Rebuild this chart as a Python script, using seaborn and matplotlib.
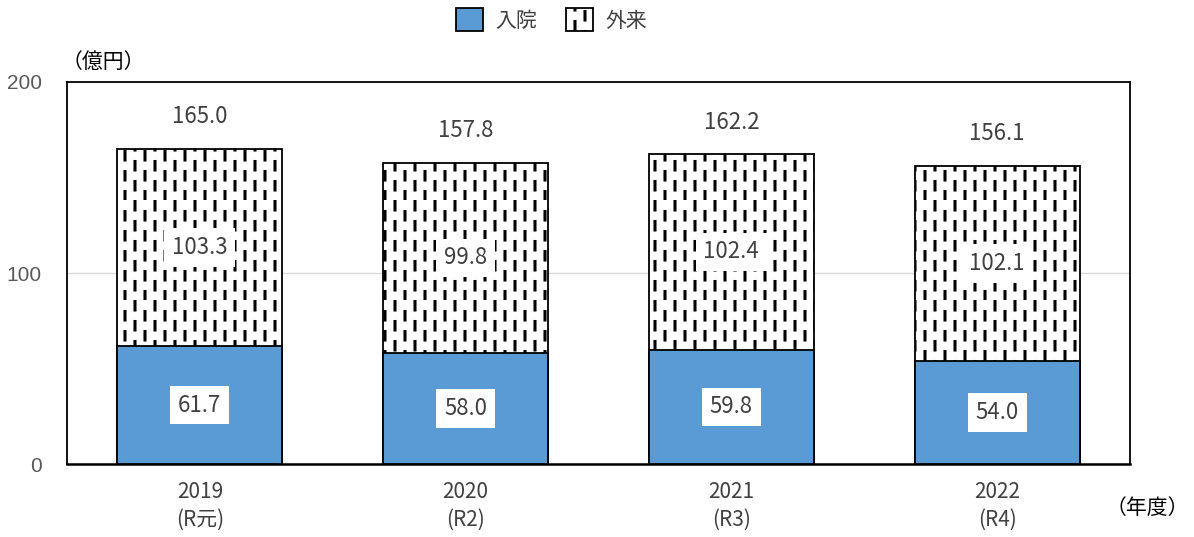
import warnings
import numpy as np
import pandas as pd
import matplotlib
matplotlib.use("Agg")
import matplotlib.pyplot as plt
import matplotlib.hatch as mhatch
from matplotlib.path import Path
import seaborn as sns

warnings.filterwarnings("ignore")

# Data (億円)
years = ["2019", "2020", "2021", "2022"]
eras = ["(R元)", "(R2)", "(R3)", "(R4)"]
inpatient = [61.7, 58.0, 59.8, 54.0]
outpatient = [103.3, 99.8, 102.4, 102.1]
yticks = [0, 100, 200]


# Staggered dashed-column hatch, selected with the 'd' hatch character
class DashedColumns(mhatch.HatchPatternBase):
    def __init__(self, hatch, density):
        self.cols = 10 if "d" in hatch else 0
        self.dashes = 5
        self.num_vertices = self.cols * self.dashes * 2

    def set_vertices_and_codes(self, vertices, codes):
        step = 1.0 / self.cols
        period = 1.0 / self.dashes
        length = 0.085
        k = 0
        for c in range(self.cols):
            x = (c + 0.5) * step
            shift = 0.0 if c % 2 == 0 else period / 2
            for d in range(self.dashes):
                y0 = (d * period + shift) % 1.0
                vertices[k] = (x, y0)
                vertices[k + 1] = (x, min(y0 + length, 1.0))
                codes[k] = Path.MOVETO
                codes[k + 1] = Path.LINETO
                k += 2


mhatch._hatch_types.append(DashedColumns)

sns.set_theme(style="white")
plt.rcParams["font.family"] = ["Noto Sans CJK JP", "DejaVu Sans"]
plt.rcParams["hatch.linewidth"] = 2.2
plt.rcParams["hatch.color"] = "black"

BLUE = "#5B9BD5"
TXT = "#404040"

df = pd.DataFrame({
    "year": years,
    "入院": inpatient,
    "外来": outpatient,
})
df["total"] = df["入院"] + df["外来"]

fig = plt.figure(figsize=(11.94, 5.37), dpi=100)
ax = fig.add_axes([0.0561, 0.1359, 0.8903, 0.7114])

# Full stack (hatched outpatient visible above the inpatient part)
sns.barplot(data=df, x="year", y="total", color="white", width=0.62,
            edgecolor="black", linewidth=1.3, hatch="d", saturation=1,
            ax=ax, zorder=2)
# Inpatient part from zero
sns.barplot(data=df, x="year", y="入院", color=BLUE, width=0.62,
            edgecolor="black", linewidth=1.3, saturation=1, ax=ax, zorder=3)

total_bars = ax.containers[0]
in_bars = ax.containers[1]

ax.set_ylim(0, 200)
ax.set_yticks(yticks)
ax.set_yticklabels([str(v) for v in yticks], fontsize=15, color="#595959",
                   family=["Liberation Sans", "DejaVu Sans"])
ax.yaxis.grid(True, color="#D9D9D9", linewidth=1.0)
ax.set_axisbelow(True)
ax.tick_params(axis="y", length=0, pad=18)
ax.tick_params(axis="x", length=0, pad=12)
ax.set_xticks(range(len(years)))
ax.set_xticklabels([f"{y}\n{e}" for y, e in zip(years, eras)], fontsize=15,
                   color=TXT, linespacing=1.35)
ax.set_xlabel("")
ax.set_ylabel("")
for s in ax.spines.values():
    s.set_color("black")
    s.set_linewidth(1.3)
ax.spines["bottom"].set_linewidth(1.8)

box = dict(boxstyle="square,pad=0.35", facecolor="white", edgecolor="none")
for i in range(len(years)):
    a = inpatient[i]
    b = outpatient[i]
    t = df["total"].iloc[i]
    ax.text(i, a / 2, f"{a:.1f}", ha="center", va="center", fontsize=16,
            color=TXT, bbox=box, zorder=5)
    ax.text(i, a + b / 2, f"{b:.1f}", ha="center", va="center", fontsize=16,
            color=TXT, bbox=box, zorder=5)
    ax.annotate(f"{t:.1f}", xy=(i, t), xytext=(0, 23),
                textcoords="offset points", ha="center", va="center",
                fontsize=16, color=TXT)

fig.text(0.0515, 0.884, "（億円）", ha="left", va="center", fontsize=15,
         color="black")
fig.text(0.996, 0.054, "（年度）", ha="right", va="center", fontsize=15,
         color="black")

fig.legend([in_bars, total_bars], ["入院", "外来"], loc="center",
           bbox_to_anchor=(0.462, 0.963), ncol=2, frameon=False,
           fontsize=15, handlelength=1.3, handleheight=1.3,
           handletextpad=0.6, columnspacing=1.4, labelcolor=TXT)

fig.savefig("out.png", dpi=100)
